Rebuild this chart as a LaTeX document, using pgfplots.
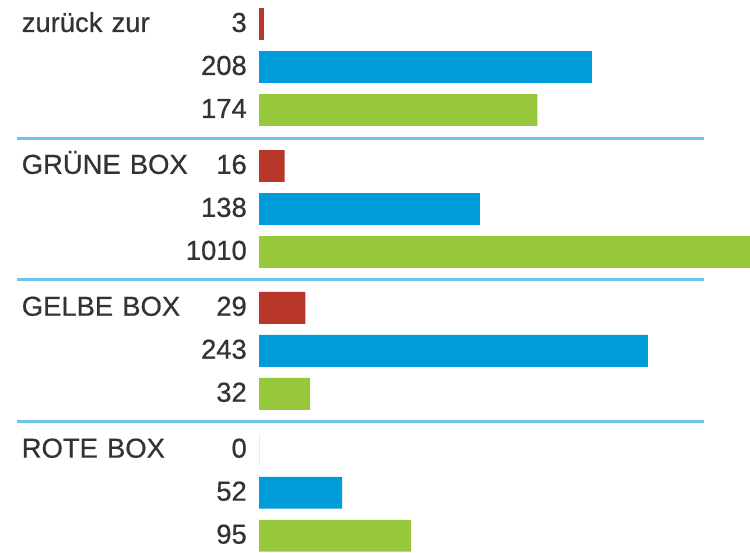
\documentclass[border=0pt]{standalone}
\usepackage{fontspec}
\setmainfont{Liberation Sans}[FakeBold=0.6]
\usepackage{pgfplots}
\pgfplotsset{compat=1.18}

\definecolor{barred}{HTML}{B9372A}
\definecolor{barblue}{HTML}{009BD9}
\definecolor{bargreen}{HTML}{97C83C}
\definecolor{seplight}{HTML}{6EC5EB}
\definecolor{txt}{HTML}{333333}

\begin{document}
\begin{tikzpicture}
\path[use as bounding box] (0,0) rectangle (750bp,553bp);
\begin{axis}[
  at={(259bp,553bp)}, anchor=north west,
  scale only axis,
  width=491bp, height=553bp,
  xmin=0, xmax=306.875,
  ymin=-12.3, ymax=0.56,
  clip=false,
  axis line style={draw=none},
  xtick=\empty,
  major tick length=0pt,
  ytick={0,-1,-2,-3.3,-4.3,-5.3,-6.6,-7.6,-8.6,-9.9,-10.9,-11.9},
  yticklabels={zurück zur\hfill 3, \hfill 208, \hfill 174,
               GRÜNE BOX\hfill 16, \hfill 138, \hfill 1010,
               GELBE BOX\hfill 29, \hfill 243, \hfill 32,
               ROTE BOX\hfill 0, \hfill 52, \hfill 95},
  yticklabel style={font=\fontsize{27.5}{32}\selectfont, text=txt,
    inner sep=0pt, text width=225bp, align=left,
    text height=19.7bp, text depth=0pt, anchor=east, xshift=-12bp, yshift=2bp},
]
\addplot[xbar, bar shift=0pt, bar width=0.74, fill=barred, draw=none]
  coordinates {(3,0) (16,-3.3) (29,-6.6) (0,-9.9)};
\addplot[xbar, bar shift=0pt, bar width=0.74, fill=barblue, draw=none]
  coordinates {(208,-1) (138,-4.3) (243,-7.6) (52,-10.9)};
\addplot[xbar, bar shift=0pt, bar width=0.74, fill=bargreen, draw=none]
  coordinates {(174,-2) (1010,-5.3) (32,-8.6) (95,-11.9)};
\draw[seplight, line width=3bp] (axis cs:-151.25,-2.65) -- (axis cs:278.1,-2.65);
\draw[seplight, line width=3bp] (axis cs:-151.25,-5.95) -- (axis cs:278.1,-5.95);
\draw[seplight, line width=3bp] (axis cs:-151.25,-9.25) -- (axis cs:278.1,-9.25);
\end{axis}
\end{tikzpicture}
\end{document}
